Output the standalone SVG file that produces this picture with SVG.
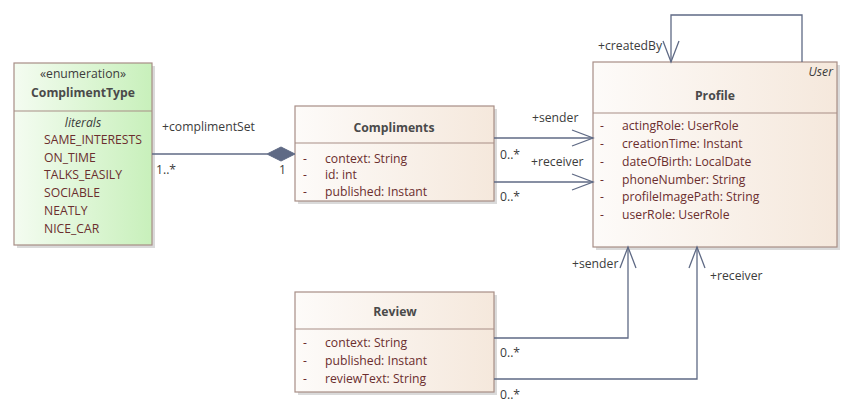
<svg xmlns="http://www.w3.org/2000/svg" width="867" height="414" viewBox="0 0 867 414">
<defs>
<linearGradient id="cls" x1="0" y1="0" x2="1" y2="0"><stop offset="0" stop-color="#FDFBF9"/><stop offset="1" stop-color="#F5E8DC"/></linearGradient>
<linearGradient id="enm" x1="0" y1="0" x2="1" y2="0"><stop offset="0" stop-color="#F4FCF1"/><stop offset="1" stop-color="#C8F0BB"/></linearGradient>
<marker id="open" viewBox="0 0 24 18" refX="22" refY="9" markerWidth="24" markerHeight="18" markerUnits="userSpaceOnUse" orient="auto"><path d="M1,1 L22,9 L1,17" fill="none" stroke="#5F6A85" stroke-width="1.3"/></marker>
</defs>
<style>
text{font-family:"Open Sans","Liberation Sans",sans-serif;font-size:12.2px;fill:#3C3C3C}
.box{stroke:#A78E86;stroke-width:1.2}
.sh{fill:#DADADA}
.name{font-weight:bold;fill:#4A4A4A;text-anchor:middle}
.attr{fill:#6B2E2E}
.c{text-anchor:middle}
.it{font-style:italic}
.ln{fill:none;stroke:#5F6A85;stroke-width:1.3}
</style>
<g id="ComplimentType">
<rect class="sh" x="17" y="66" width="138" height="182"/>
<rect class="box" x="14" y="63" width="138" height="182" fill="url(#enm)"/>
<line class="box" x1="14" y1="111" x2="152" y2="111"/>
<text class="c" x="83" y="78" fill="#4A4A4A">«enumeration»</text>
<text class="name" x="83" y="97">ComplimentType</text>
<text class="c it" x="83" y="127">literals</text>
<text class="attr" x="44" y="144">SAME_INTERESTS</text>
<text class="attr" x="44" y="162">ON_TIME</text>
<text class="attr" x="44" y="179">TALKS_EASILY</text>
<text class="attr" x="44" y="197">SOCIABLE</text>
<text class="attr" x="44" y="215">NEATLY</text>
<text class="attr" x="44" y="233">NICE_CAR</text>
</g>
<g id="Compliments">
<rect class="sh" x="298" y="109" width="199" height="95"/>
<rect class="box" x="295" y="106" width="199" height="95" fill="url(#cls)"/>
<line class="box" x1="295" y1="143" x2="494" y2="143"/>
<text class="name" x="394" y="132">Compliments</text>
<text class="attr" x="303" y="163">-</text><text class="attr" x="325" y="163">context: String</text>
<text class="attr" x="303" y="179">-</text><text class="attr" x="325" y="179">id: int</text>
<text class="attr" x="303" y="196">-</text><text class="attr" x="325" y="196">published: Instant</text>
</g>
<g id="Profile">
<rect class="sh" x="596" y="65" width="244" height="185"/>
<rect class="box" x="593" y="62" width="244" height="185" fill="url(#cls)"/>
<line class="box" x1="593" y1="113" x2="837" y2="113"/>
<text class="it" x="833" y="76" text-anchor="end">User</text>
<text class="name" x="715" y="100">Profile</text>
<text class="attr" x="600" y="130">-</text><text class="attr" x="622" y="130">actingRole: UserRole</text>
<text class="attr" x="600" y="148">-</text><text class="attr" x="622" y="148">creationTime: Instant</text>
<text class="attr" x="600" y="166">-</text><text class="attr" x="622" y="166">dateOfBirth: LocalDate</text>
<text class="attr" x="600" y="184">-</text><text class="attr" x="622" y="184">phoneNumber: String</text>
<text class="attr" x="600" y="201">-</text><text class="attr" x="622" y="201">profileImagePath: String</text>
<text class="attr" x="600" y="219">-</text><text class="attr" x="622" y="219">userRole: UserRole</text>
</g>
<g id="Review">
<rect class="sh" x="298" y="295" width="199" height="100"/>
<rect class="box" x="295" y="292" width="199" height="100" fill="url(#cls)"/>
<line class="box" x1="295" y1="329" x2="494" y2="329"/>
<text class="name" x="395" y="316">Review</text>
<text class="attr" x="303" y="347">-</text><text class="attr" x="325" y="347">context: String</text>
<text class="attr" x="303" y="365">-</text><text class="attr" x="325" y="365">published: Instant</text>
<text class="attr" x="303" y="383">-</text><text class="attr" x="325" y="383">reviewText: String</text>
</g>
<g id="connectors">
<line class="ln" x1="152" y1="154" x2="267" y2="154"/>
<polygon points="267,154 281,147 295,154 281,161" fill="#5F6A85" stroke="#5F6A85"/>
<text x="162" y="131">+complimentSet</text>
<text x="156" y="174">1..*</text>
<text x="279" y="174" fill="#5F6A85">1</text>
<line class="ln" x1="494" y1="138" x2="593" y2="138" marker-end="url(#open)"/>
<text x="532" y="122">+sender</text>
<text x="500" y="159">0..*</text>
<line class="ln" x1="494" y1="182" x2="593" y2="182" marker-end="url(#open)"/>
<text x="531" y="166">+receiver</text>
<text x="500" y="201">0..*</text>
<path class="ln" d="M802,62 L802,15 L671,15 L671,62" marker-end="url(#open)"/>
<text x="598" y="50">+createdBy</text>
<path class="ln" d="M494,338 L628,338 L628,247" marker-end="url(#open)"/>
<text x="572" y="268">+sender</text>
<text x="500" y="357">0..*</text>
<path class="ln" d="M494,379 L697,379 L697,247" marker-end="url(#open)"/>
<text x="710" y="280">+receiver</text>
<text x="500" y="399">0..*</text>
</g>
</svg>
